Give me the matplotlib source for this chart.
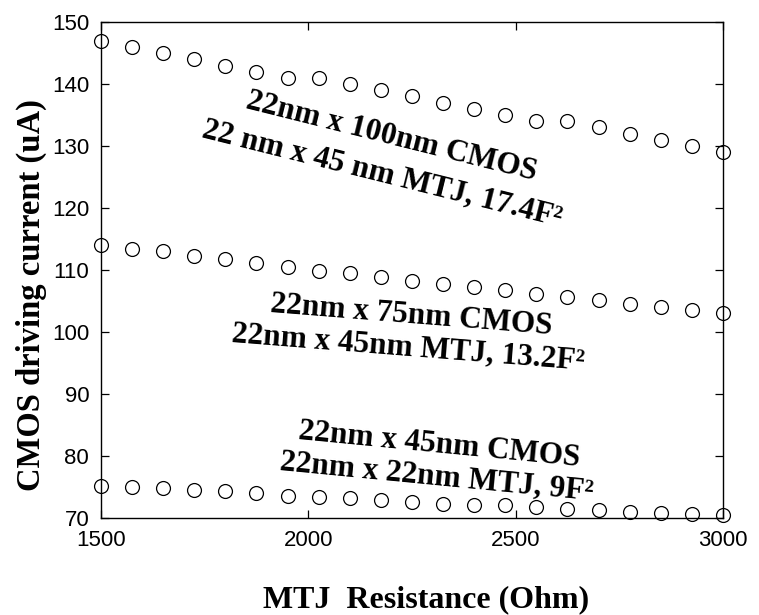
import numpy as np
import matplotlib
matplotlib.use("Agg")
from matplotlib import pyplot as plt

# MTJ resistance sweep (Ohm)
resistance = np.arange(1500, 3001, 75)

# driving current (uA) for the three CMOS widths
i_100nm = [147, 146, 145, 144, 143, 142, 141, 141, 140, 139, 138,
           137, 136, 135, 134, 134, 133, 132, 131, 130, 129]
i_75nm = [114.1, 113.4, 113.0, 112.3, 111.8, 111.1, 110.5, 109.9, 109.5, 108.9, 108.3,
          107.8, 107.3, 106.7, 106.1, 105.7, 105.2, 104.5, 104.0, 103.5, 103.0]
i_45nm = [75.2, 75.0, 74.8, 74.5, 74.3, 74.0, 73.6, 73.4, 73.2, 72.8, 72.6,
          72.3, 72.1, 72.0, 71.7, 71.4, 71.2, 71.0, 70.8, 70.6, 70.4]

labels = ["22nm x 100nm CMOS\n22 nm x 45 nm MTJ, 17.4F²",
          "22nm x 75nm CMOS\n22nm x 45nm MTJ, 13.2F²",
          "22nm x 45nm CMOS\n22nm x 22nm MTJ, 9F²"]

fig = plt.figure(figsize=(7.59, 6.15), dpi=100)
ax = fig.add_axes([0.133, 0.158, 0.8195, 0.806])

for series in (i_100nm, i_75nm, i_45nm):
    ax.plot(resistance, series, linestyle="none", marker="o", markersize=10,
            markerfacecolor="none", markeredgecolor="black", markeredgewidth=0.9,
            clip_on=False, zorder=3)

ax.set_xlim(1500, 3000)
ax.set_ylim(70, 150)
ax.set_xticks([1500, 2000, 2500, 3000])
ax.set_yticks(range(70, 151, 10))
ax.tick_params(direction="in", top=True, right=True, length=6, width=0.9,
               labelsize=16, pad=8.5)
for lbl in ax.get_xticklabels() + ax.get_yticklabels():
    lbl.set_family("Liberation Sans")
for sp in ax.spines.values():
    sp.set_linewidth(1.0)

ax.set_xlabel("MTJ  Resistance (Ohm)", family="Liberation Serif", fontweight="bold",
              fontsize=23)
ax.set_ylabel("CMOS driving current (uA)", family="Liberation Serif", fontweight="bold",
              fontsize=23.5)
ax.xaxis.set_label_coords(0.522, -0.135)
ax.yaxis.set_label_coords(-0.087, 0.45)

txt = dict(family="Liberation Serif", fontweight="bold", fontsize=22.5,
           ha="center", va="center", multialignment="center",
           rotation_mode="anchor")
ax.text(2190, 128.5, labels[0], rotation=-14, linespacing=1.4, **txt)
ax.text(2245, 100.0, labels[1], rotation=-4.5, linespacing=1.15, **txt)
ax.text(2313, 79.2, labels[2], rotation=-5.5, linespacing=1.15, **txt)

fig.savefig("out.png", dpi=100)
